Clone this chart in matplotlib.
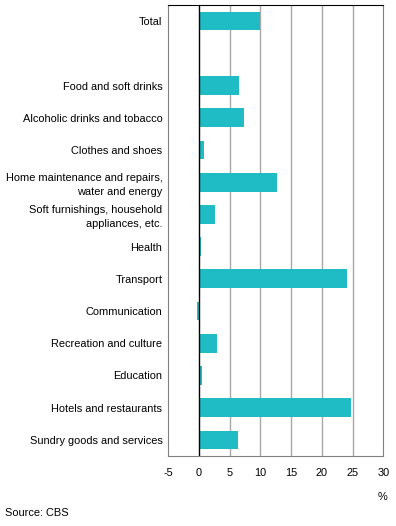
import matplotlib.pyplot as plt

plt.rcParams['font.family'] = ['Liberation Sans', 'DejaVu Sans']

categories = [
    'Total',
    '',
    'Food and soft drinks',
    'Alcoholic drinks and tobacco',
    'Clothes and shoes',
    'Home maintenance and repairs,\nwater and energy',
    'Soft furnishings, household\nappliances, etc.',
    'Health',
    'Transport',
    'Communication',
    'Recreation and culture',
    'Education',
    'Hotels and restaurants',
    'Sundry goods and services',
]
values = [10.0, None, 6.6, 7.4, 0.8, 12.7, 2.7, 0.3, 24.1, -0.3, 3.0, 0.45, 24.7, 6.4]
xticks = [-5, 0, 5, 10, 15, 20, 25, 30]

bar_color = '#1fbcc6'


def draw_graph():
    fig = plt.figure(figsize=(3.96, 5.26), dpi=100)
    ax = fig.add_axes([168 / 396, 1 - 456 / 526, (383.3 - 168) / 396, (456 - 5) / 526])

    pos = [i for i, v in enumerate(values) if v is not None]
    vals = [v for v in values if v is not None]
    ax.barh(pos, vals, height=0.58, color=bar_color, zorder=3)

    ax.set_xlim(-5, 30)
    ax.set_ylim(13.5, -0.5)
    ax.set_xticks(xticks)
    ax.set_xticklabels([str(t) for t in xticks], fontsize=7.9)
    ax.set_yticks(range(len(categories)))
    ax.set_yticklabels(categories, fontsize=7.9, multialignment='right', linespacing=1.5)
    ax.tick_params(axis='y', length=0, pad=4)
    ax.tick_params(axis='x', length=0, pad=9)

    # gridlines, with the zero line drawn black over the bars
    for t in xticks:
        if t == 0:
            ax.axvline(0, color='black', lw=1.0, zorder=6)
        elif t not in (-5, 30):
            ax.axvline(t, color='#a8a8a8', lw=1, zorder=1)

    for side in ['left', 'right', 'bottom']:
        ax.spines[side].set_color('#808080')
    ax.spines['top'].set_color('black')

    fig.text(383 / 396, 1 - 497 / 526, '%', fontsize=7.9, ha='center', va='center')
    fig.text(5 / 396, 1 - 513 / 526, 'Source: CBS', fontsize=7.9, ha='left', va='center')

    fig.savefig('out.png', dpi=100)


def main():
    draw_graph()


if __name__ == '__main__':
    main()
